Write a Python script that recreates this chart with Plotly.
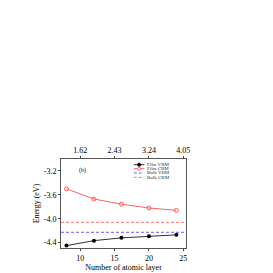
import plotly.graph_objects as go

layers = [8, 12, 16, 20, 24]
film_vbm = [-4.45, -4.367, -4.32, -4.294, -4.27]
film_cbm = [-3.50, -3.67, -3.756, -3.82, -3.86]
bulk_vbm = -4.227
bulk_cbm = -4.06
top_tickvals = [10, 15, 20, 25]
top_ticktext = ["1.62", "2.43", "3.24", "4.05"]
legend_names = ["Film VBM", "Film CBM", "Bulk VBM", "Bulk CBM"]
xrange_ = [7.2, 25.4]

FONT = "Liberation Serif"
C_VBM = "#333333"
C_CBM = "#ff6060"
C_BVBM = "#6060ff"
C_BCBM = "#ff7070"

fig = go.Figure()
fig.add_trace(go.Scatter(x=layers, y=film_vbm, mode="lines+markers", name=legend_names[0],
                         line=dict(color=C_VBM, width=1),
                         marker=dict(symbol="circle", size=4, color="black")))
fig.add_trace(go.Scatter(x=layers, y=film_cbm, mode="lines+markers", name=legend_names[1],
                         line=dict(color=C_CBM, width=1),
                         marker=dict(symbol="circle-open", size=4, color=C_CBM)))
fig.add_trace(go.Scatter(x=xrange_, y=[bulk_vbm, bulk_vbm], mode="lines", name=legend_names[2],
                         line=dict(color=C_BVBM, width=1, dash="3px,2px")))
fig.add_trace(go.Scatter(x=xrange_, y=[bulk_cbm, bulk_cbm], mode="lines", name=legend_names[3],
                         line=dict(color=C_BCBM, width=1, dash="3px,2px")))
fig.add_trace(go.Scatter(x=[xrange_[0]], y=[-4.0], xaxis="x2", mode="markers",
                         marker=dict(opacity=0), showlegend=False, hoverinfo="skip"))

# custom compact legend (paper coordinates)
rows_y = [0.936, 0.891, 0.843, 0.794]
styles = [(C_VBM, "solid"), (C_CBM, "solid"), (C_BVBM, "3px,2px"), (C_BCBM, "3px,2px")]
for i, (name, (col, dash)) in enumerate(zip(legend_names, styles)):
    yy = rows_y[i]
    fig.add_shape(type="line", xref="paper", yref="paper", x0=0.582, x1=0.667, y0=yy, y1=yy,
                  line=dict(color=col, width=1, dash=dash))
    if i == 0:
        fig.add_shape(type="circle", xref="paper", yref="paper", x0=0.613, x1=0.637,
                      y0=yy - 0.017, y1=yy + 0.017, line=dict(color="black", width=1),
                      fillcolor="black")
    if i == 1:
        fig.add_shape(type="circle", xref="paper", yref="paper", x0=0.613, x1=0.637,
                      y0=yy - 0.017, y1=yy + 0.017, line=dict(color=C_CBM, width=1),
                      fillcolor="white")
    fig.add_annotation(xref="paper", yref="paper", x=0.675, y=yy, xanchor="left", yanchor="middle",
                       text=name, showarrow=False,
                       font=dict(family=FONT, size=5, color="#333333"))

fig.add_annotation(x=10.3, y=-3.2, text="(b)", showarrow=False,
                   font=dict(family=FONT, size=6, color="black"))

fig.update_layout(
    width=273, height=273,
    margin=dict(l=53, r=95, t=151, b=33),
    paper_bgcolor="white", plot_bgcolor="white",
    showlegend=False,
    xaxis=dict(range=xrange_, tickvals=[10, 15, 20, 25], ticks="outside", ticklen=2,
               showline=True, linecolor="#555555", linewidth=1, showgrid=False,
               zeroline=False,
               tickfont=dict(family=FONT, size=8, color="black"),
               title=dict(text="Number of atomic layer", font=dict(family=FONT, size=8, color="black"),
                          standoff=2)),
    xaxis2=dict(range=xrange_, overlaying="x", side="top", tickvals=top_tickvals,
                ticktext=top_ticktext, ticks="outside", ticklen=2,
                showline=True, linecolor="#555555", linewidth=1, showgrid=False, zeroline=False,
                tickfont=dict(family=FONT, size=8, color="black")),
    yaxis=dict(range=[-4.49, -3.0], tickvals=[-4.4, -4.0, -3.6, -3.2],
               ticktext=["-4.4", "-4.0", "-3.6", "-3.2"], ticks="outside", ticklen=2,
               showline=True, linecolor="#555555", linewidth=1, mirror=True, showgrid=False,
               zeroline=False,
               tickfont=dict(family=FONT, size=8, color="black"),
               title=dict(text="Energy (eV)", font=dict(family=FONT, size=8, color="black"),
                          standoff=2)),
)
fig.write_html("out.html")
